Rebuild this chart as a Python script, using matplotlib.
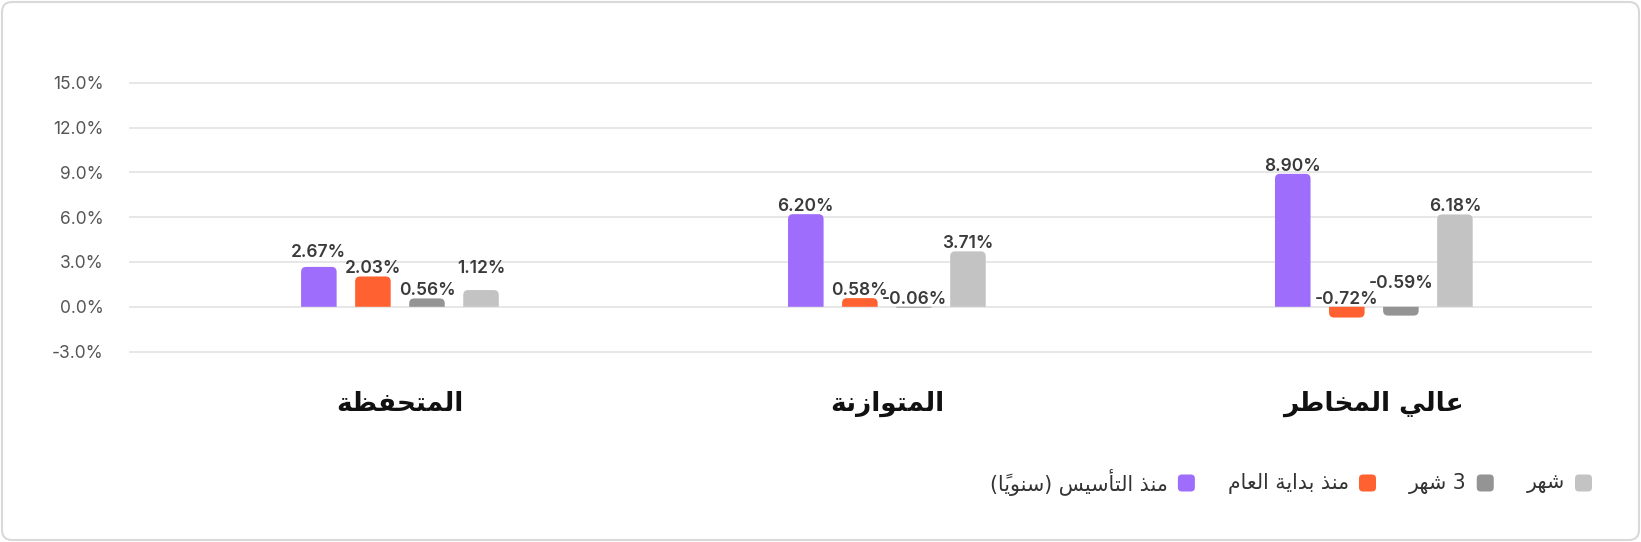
import numpy as np
import matplotlib
matplotlib.use('Agg')
import matplotlib.pyplot as plt
from matplotlib.patches import FancyBboxPatch, PathPatch
from matplotlib.path import Path

# Data
categories = ['المتحفظة', 'المتوازنة', 'عالي المخاطر']
series_names = ['منذ التأسيس (سنوياً)', 'منذ بداية العام', '3 شهر', 'شهر']
since_inception = [2.67, 6.20, 8.90]
year_to_date = [2.03, 0.58, -0.72]
three_months = [0.56, -0.06, -0.59]
one_month = [1.12, 3.71, 6.18]
y_ticks = [-3, 0, 3, 6, 9, 12, 15]

series_values = [since_inception, year_to_date, three_months, one_month]
colors = ['#9f6dfc', '#ff6131', '#949494', '#c3c3c3']

# label nudges (pixels) to avoid overlapping labels, as in the original
label_nudge = {(0, 0): 7, (0, 3): 14, (2, 2): 16}

# --- minimal arabic shaping (presentation forms) ---
FORMS = {
    'ا': ('\ufe8d', '\ufe8e'), 'أ': ('\ufe83', '\ufe84'),
    'ب': ('\ufe8f', '\ufe90', '\ufe91', '\ufe92'), 'ة': ('\ufe93', '\ufe94'),
    'ت': ('\ufe95', '\ufe96', '\ufe97', '\ufe98'), 'ح': ('\ufea1', '\ufea2', '\ufea3', '\ufea4'),
    'خ': ('\ufea5', '\ufea6', '\ufea7', '\ufea8'), 'د': ('\ufea9', '\ufeaa'),
    'ذ': ('\ufeab', '\ufeac'), 'ر': ('\ufead', '\ufeae'), 'ز': ('\ufeaf', '\ufeb0'),
    'س': ('\ufeb1', '\ufeb2', '\ufeb3', '\ufeb4'), 'ش': ('\ufeb5', '\ufeb6', '\ufeb7', '\ufeb8'),
    'ط': ('\ufec1', '\ufec2', '\ufec3', '\ufec4'), 'ظ': ('\ufec5', '\ufec6', '\ufec7', '\ufec8'),
    'ع': ('\ufec9', '\ufeca', '\ufecb', '\ufecc'), 'ف': ('\ufed1', '\ufed2', '\ufed3', '\ufed4'),
    'ل': ('\ufedd', '\ufede', '\ufedf', '\ufee0'), 'م': ('\ufee1', '\ufee2', '\ufee3', '\ufee4'),
    'ن': ('\ufee5', '\ufee6', '\ufee7', '\ufee8'), 'ه': ('\ufee9', '\ufeea', '\ufeeb', '\ufeec'),
    'و': ('\ufeed', '\ufeee'), 'ي': ('\ufef1', '\ufef2', '\ufef3', '\ufef4'),
}
MARKS = '\u064b\u064e\u064f\u0650\u0651\u0652'
MIRROR = {'(': ')', ')': '('}


def shape(text):
    chars = list(text)

    def neighbour(i, step):
        j = i + step
        while 0 <= j < len(chars) and chars[j] in MARKS:
            j += step
        return chars[j] if 0 <= j < len(chars) else None

    shaped = []
    for i, c in enumerate(chars):
        if c not in FORMS:
            shaped.append(c)
            continue
        f = FORMS[c]
        prev, nxt = neighbour(i, -1), neighbour(i, 1)
        join_prev = prev in FORMS and len(FORMS[prev]) == 4
        join_next = len(f) == 4 and nxt in FORMS
        if join_prev and join_next:
            shaped.append(f[3])
        elif join_prev:
            shaped.append(f[1])
        elif join_next:
            shaped.append(f[2])
        else:
            shaped.append(f[0])

    # group marks with their base, then reverse to visual order
    clusters = []
    for c in shaped:
        if c in MARKS and clusters:
            clusters[-1] += c
        else:
            clusters.append(c)
    return ''.join(MIRROR.get(c, c) for c in reversed(clusters))


def rounded_bar_path(x0, w, h, rx, ry):
    """Bar from 0 to h with the far end rounded (radius rx, ry in data units)."""
    x1 = x0 + w
    sgn = 1 if h >= 0 else -1
    e = h - sgn * ry
    verts = [(x0, 0), (x0, e), (x0, h), (x0 + rx, h), (x1 - rx, h),
             (x1, h), (x1, e), (x1, 0), (x0, 0)]
    codes = [Path.MOVETO, Path.LINETO, Path.CURVE3, Path.CURVE3, Path.LINETO,
             Path.CURVE3, Path.CURVE3, Path.LINETO, Path.CLOSEPOLY]
    return Path(verts, codes)


W, H = 1641, 542
fig = plt.figure(figsize=(W / 100, H / 100), dpi=100)
fig.patch.set_facecolor('white')

# card border
card = FancyBboxPatch((2 / W, 2 / H), 1 - 4 / W, 1 - 4 / H,
                      boxstyle='round,pad=0,rounding_size=%f' % (10 / W),
                      mutation_aspect=W / H, transform=fig.transFigure,
                      facecolor='none', edgecolor='#d9d9d9', linewidth=1.5, zorder=-1)
fig.patches.append(card)

ax_left, ax_right = 128.7, 1592
ax_top, ax_bottom = 81.2, 353.1
ax = fig.add_axes([ax_left / W, 1 - ax_bottom / H, (ax_right - ax_left) / W, (ax_bottom - ax_top) / H])
ax.set_facecolor('none')

x = np.arange(len(categories))
xlim = (-0.557, 2.448)
ylim = (-3.1, 15.1)
ax.set_xlim(xlim)
ax.set_ylim(ylim)
px_x = (ax_right - ax_left) / (xlim[1] - xlim[0])
px_y = (ax_bottom - ax_top) / (ylim[1] - ylim[0])

bar_w = 0.073
step = 0.111
offsets = (np.arange(4) - 1.5) * step

for s, (vals, col) in enumerate(zip(series_values, colors)):
    bars = ax.bar(x + offsets[s], vals, width=bar_w, color=col)
    for g, rect in enumerate(bars):
        rect.set_visible(False)
        bx, bw, bh = rect.get_x(), rect.get_width(), rect.get_height()
        r_px = min(5, abs(bh) * px_y, bw * px_x / 2)
        ax.add_patch(PathPatch(rounded_bar_path(bx, bw, bh, r_px / px_x, r_px / px_y),
                               facecolor=col, edgecolor='none', zorder=3))

        v = vals[g]
        nudge = label_nudge.get((g, s), 0)
        ax.annotate(f'{v:.2f}%', (bx + bw / 2, max(v, 0)), xytext=(0, 3 + nudge),
                    textcoords='offset pixels', ha='center', va='baseline',
                    fontsize=12.5, fontweight='semibold', color='#3a3a3a',
                    family=['Inter', 'DejaVu Sans'], zorder=4)

# grid and axes styling
ax.set_yticks(y_ticks)
ax.set_yticklabels([f'{t:.1f}%' for t in y_ticks], family=['Inter', 'DejaVu Sans'])
for t in y_ticks:
    ax.axhline(t, color='#e0e0e0', linewidth=1.1, zorder=1)
for sp in ax.spines.values():
    sp.set_visible(False)
ax.tick_params(axis='y', length=0, pad=18, labelsize=12.5, labelcolor='#555555')

ax.set_xticks(x)
ax.set_xticklabels([shape(c) for c in categories], family='DejaVu Sans',
                   fontweight='bold', fontsize=19, color='#111111')
ax.tick_params(axis='x', length=0, pad=27)

# legend (right-to-left, marker on the right of each label)
fig.canvas.draw()
renderer = fig.canvas.get_renderer()
legend_y = 1 - 483 / H
cursor = 1592
msize = 17
for name, col in reversed(list(zip(series_names, colors))):
    mk = FancyBboxPatch(((cursor - msize) / W, legend_y - msize / 2 / H), msize / W, msize / H,
                        boxstyle='round,pad=0,rounding_size=%f' % (4 / W),
                        mutation_aspect=W / H, transform=fig.transFigure,
                        facecolor=col, edgecolor='none')
    fig.patches.append(mk)
    cursor -= msize + 10
    t = fig.text(cursor / W, legend_y, shape(name), ha='right', va='center',
                 fontsize=14.8, color='#333333', family='DejaVu Sans')
    bb = t.get_window_extent(renderer)
    cursor -= bb.width + 33

fig.savefig('out.png', dpi=100)
